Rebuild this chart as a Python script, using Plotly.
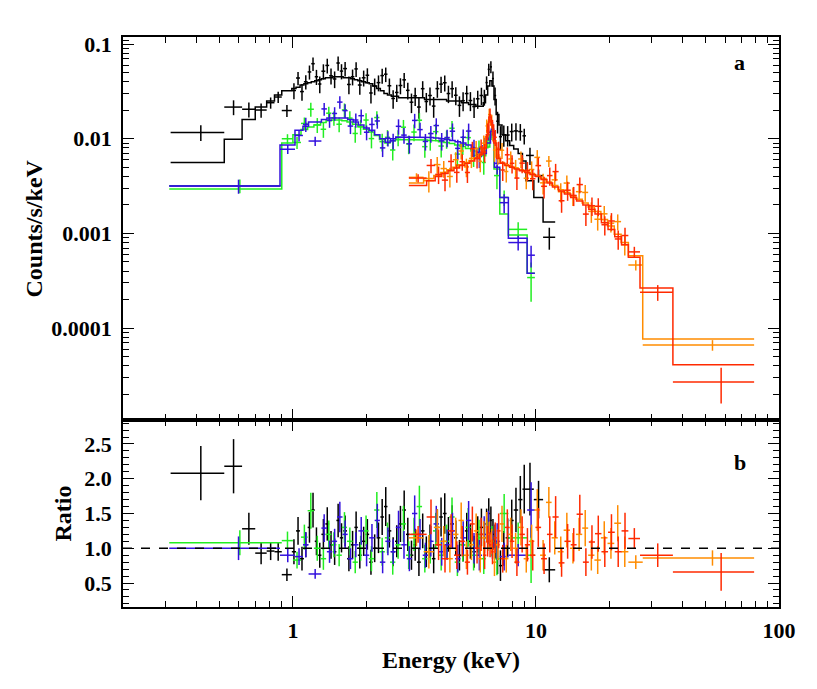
import plotly.graph_objects as go
from plotly.subplots import make_subplots

# ---------------- data (energy bin edges in keV, model in counts/s/keV, data/model ratio) -------------
black_edges = [0.314, 0.522, 0.618, 0.70, 0.78, 0.84, 0.90,
               0.99, 1.03, 1.07, 1.11, 1.15, 1.19, 1.23, 1.27, 1.31, 1.36,
               1.41, 1.46, 1.51, 1.56, 1.61, 1.67, 1.73, 1.79, 1.85, 1.92,
               1.99, 2.06, 2.13, 2.21, 2.29, 2.37, 2.45, 2.54, 2.63, 2.72,
               2.82, 2.92, 3.02, 3.13, 3.24, 3.36, 3.48, 3.60, 3.73, 3.86,
               4.00, 4.14, 4.29, 4.44, 4.60, 4.76, 4.93, 5.10, 5.28, 5.47,
               5.66, 5.86, 6.07, 6.20, 6.33, 6.46, 6.59, 6.72, 6.86, 7.04,
               7.25, 7.50, 7.80, 8.10, 8.45, 8.80, 9.10, 9.80, 10.7, 12.0]
black_model = [0.0056, 0.0099, 0.016, 0.0216, 0.025, 0.029, 0.032,
               0.034, 0.035, 0.037, 0.038, 0.039, 0.040, 0.041, 0.042,
               0.043, 0.044, 0.044, 0.045, 0.045, 0.045, 0.044, 0.044, 0.043, 0.042, 0.041, 0.040, 0.039,
               0.038, 0.036, 0.034, 0.032, 0.030, 0.029, 0.028, 0.028,
               0.027, 0.027, 0.027, 0.027, 0.027, 0.027, 0.027,
               0.026, 0.026, 0.026, 0.026, 0.026, 0.026,
               0.025, 0.025, 0.025, 0.025,
               0.024, 0.024, 0.023, 0.023, 0.022, 0.022,
               0.024, 0.029, 0.036, 0.041, 0.036, 0.026, 0.018, 0.014, 0.011, 0.0095, 0.0085, 0.0078, 0.0070, 0.0058,
               0.0036, 0.0024, 0.00132]
black_ratio = [2.08, 2.18, 1.28, 0.93, 0.96, 0.95, 0.62,
               0.95, 1.25, 0.85, 1.05, 1.30, 1.55, 1.10, 0.90, 1.20, 1.35,
               1.05, 0.95, 1.40, 1.15, 1.25, 0.85, 1.05, 1.30, 0.90, 1.10,
               1.20, 0.80, 1.00, 1.15, 1.45, 1.60, 1.25, 0.95, 1.10, 1.35,
               1.55, 1.20, 0.90, 1.05, 0.80, 1.25, 0.95, 1.10, 0.85, 1.30,
               1.45, 1.50, 1.20, 1.35, 1.15, 0.90, 1.05, 1.25, 1.10, 0.95,
               1.20, 1.30, 1.15, 1.35, 1.50, 1.40, 1.20, 1.10, 0.85, 0.75,
               1.00, 1.15, 1.40, 1.55, 1.70, 1.85, 1.85, 1.70, 0.69]
black_err = [0.39, 0.39, 0.23, 0.16, 0.13, 0.13, 0.09,
             0.18, 0.20, 0.17, 0.18, 0.22, 0.25, 0.20, 0.18, 0.22, 0.24,
             0.20, 0.19, 0.24, 0.21, 0.22, 0.18, 0.20, 0.23, 0.19, 0.21,
             0.22, 0.18, 0.20, 0.22, 0.26, 0.28, 0.24, 0.21, 0.23, 0.26,
             0.28, 0.24, 0.21, 0.23, 0.20, 0.25, 0.22, 0.24, 0.21, 0.26,
             0.28, 0.29, 0.25, 0.27, 0.25, 0.22, 0.24, 0.26, 0.25, 0.23,
             0.26, 0.27, 0.22, 0.22, 0.22, 0.20, 0.22, 0.24, 0.22, 0.22,
             0.25, 0.28, 0.30, 0.32, 0.34, 0.35, 0.38, 0.27, 0.18]

green_edges = [0.31, 0.90, 1.00, 1.08, 1.15, 1.22, 1.30, 1.37, 1.44, 1.51, 1.59,
               1.67, 1.76, 1.85, 1.95, 2.05, 2.16, 2.27, 2.39, 2.51, 2.64,
               2.78, 2.92, 3.07, 3.23, 3.40, 3.58, 3.77, 3.97, 4.18, 4.40,
               4.63, 4.87, 5.13, 5.40, 5.68, 5.98, 6.22, 6.46, 6.72, 7.10,
               7.70, 9.20, 9.90]
green_model = [0.00295, 0.0090, 0.0110, 0.0125, 0.0133, 0.0140, 0.0148, 0.0155, 0.0158, 0.0158,
               0.0155, 0.0150, 0.0142, 0.0134, 0.0126, 0.0118, 0.0108, 0.0098, 0.0090, 0.0095,
               0.0098, 0.0098, 0.0098, 0.0098, 0.0098, 0.0097, 0.0096, 0.0095, 0.0093, 0.0091,
               0.0089, 0.0086, 0.0083, 0.0079, 0.0074, 0.0068, 0.0066, 0.0082, 0.0110, 0.0048,
               0.0016, 0.00096, 0.00038]
green_ratio = [1.08, 1.11, 0.83, 1.16, 1.54, 1.00, 0.85, 1.20, 1.05, 0.90,
               1.30, 1.10, 0.80, 1.00, 1.25, 0.85, 1.55, 0.95, 1.15, 0.80,
               1.05, 1.35, 0.90, 1.20, 1.60, 0.85, 1.00, 1.25, 0.90, 1.10,
               1.45, 0.80, 1.05, 1.30, 0.90, 1.15, 0.85, 1.20, 1.10, 0.85,
               1.50, 1.15, 0.90]
green_err = [0.18, 0.13, 0.12, 0.18, 0.26, 0.18, 0.16, 0.20, 0.18, 0.16,
             0.22, 0.20, 0.16, 0.18, 0.22, 0.18, 0.26, 0.20, 0.22, 0.18,
             0.20, 0.26, 0.20, 0.24, 0.30, 0.20, 0.22, 0.26, 0.22, 0.24,
             0.28, 0.20, 0.24, 0.28, 0.22, 0.26, 0.22, 0.24, 0.22, 0.24,
             0.28, 0.22, 0.40]

blue_edges = [0.31, 0.885, 1.02, 1.10, 1.16, 1.31, 1.38, 1.45, 1.52, 1.60, 1.68,
              1.77, 1.86, 1.96, 2.06, 2.17, 2.28, 2.40, 2.52, 2.65, 2.79,
              2.94, 3.09, 3.25, 3.42, 3.60, 3.79, 3.99, 4.20, 4.42, 4.65,
              4.89, 5.15, 5.42, 5.70, 6.00, 6.25, 6.50, 6.75, 7.10, 7.70,
              9.20, 9.90]
blue_model = [0.00316, 0.0086, 0.0123, 0.0135, 0.0150, 0.0160, 0.0165, 0.0168, 0.0168, 0.0165,
              0.0160, 0.0150, 0.0140, 0.0130, 0.0123, 0.0110, 0.0100, 0.0092, 0.0100, 0.0104,
              0.0104, 0.0104, 0.0104, 0.0104, 0.0104, 0.0103, 0.0102, 0.0100, 0.0098, 0.0096,
              0.0093, 0.0090, 0.0086, 0.0080, 0.0072, 0.0070, 0.0090, 0.0120, 0.0050, 0.0024,
              0.00089, 0.00038]
blue_ratio = [1.00, 0.90, 0.88, 1.05, 0.63, 1.29, 0.95, 1.10, 1.45, 1.20,
              0.85, 1.05, 1.25, 0.90, 1.15, 1.40, 0.80, 1.10, 0.95, 1.30,
              1.05, 0.85, 1.50, 1.20, 0.90, 1.10, 1.35, 0.95, 1.05, 1.25,
              0.85, 1.15, 1.40, 1.00, 0.90, 1.20, 1.30, 1.05, 1.10, 0.88,
              0.90, 1.55]
blue_err = [0.17, 0.10, 0.12, 0.18, 0.07, 0.20, 0.16, 0.18, 0.22, 0.20,
            0.15, 0.18, 0.20, 0.16, 0.20, 0.24, 0.16, 0.20, 0.18, 0.24,
            0.20, 0.18, 0.26, 0.22, 0.18, 0.22, 0.26, 0.20, 0.22, 0.26,
            0.20, 0.24, 0.28, 0.22, 0.22, 0.26, 0.24, 0.20, 0.26, 0.20,
            0.16, 0.40]

orange_edges = [3.00, 3.45, 3.80, 4.05, 4.30, 4.55, 4.80, 5.05, 5.30, 5.55,
                5.80, 6.00, 6.20, 6.35, 6.50, 6.65, 6.85, 7.10, 7.40, 7.70,
                8.05, 8.45, 8.90, 9.35, 9.85, 10.4, 11.0, 11.6, 12.3, 13.0,
                13.8, 14.6, 15.5, 16.4, 17.4, 18.5, 19.7, 21.0, 22.4, 24.0,
                27.5, 79.0]
orange_model = [0.0034, 0.0038, 0.0041, 0.0044, 0.0047, 0.0050, 0.0053, 0.0056, 0.0059, 0.0063,
                0.0068, 0.0078, 0.0105, 0.0150, 0.0140, 0.0095, 0.0064, 0.0056, 0.0053, 0.0051,
                0.0049, 0.0047, 0.0045, 0.0043, 0.0041, 0.0038, 0.0035, 0.0032, 0.0029, 0.0027,
                0.0025, 0.0023, 0.0021, 0.0019, 0.0017, 0.0014, 0.0012, 0.00098, 0.00080, 0.00058,
                0.000077]
orange_ratio = [1.15, 0.95, 1.30, 1.10, 0.85, 1.20, 1.40, 0.90, 1.05, 1.25,
                0.85, 1.15, 1.30, 1.20, 1.10, 0.80, 1.05, 1.35, 0.85, 1.20,
                1.00, 1.30, 0.85, 1.10, 1.55, 0.90, 1.66, 1.15, 0.95, 1.26,
                1.00, 1.20, 1.29, 0.90, 0.83, 1.15, 1.07, 1.36, 0.95, 0.80,
                0.86]
orange_err = [0.12, 0.24, 0.26, 0.22, 0.20, 0.24, 0.26, 0.20, 0.22, 0.25,
              0.20, 0.24, 0.22, 0.18, 0.18, 0.20, 0.22, 0.26, 0.20, 0.24,
              0.22, 0.26, 0.20, 0.24, 0.30, 0.22, 0.22, 0.24, 0.22, 0.25,
              0.22, 0.24, 0.26, 0.22, 0.20, 0.24, 0.22, 0.26, 0.22, 0.10,
              0.11]

red_edges = [3.00, 3.55, 3.85, 4.10, 4.35, 4.60, 4.85, 5.10, 5.35, 5.60,
             5.85, 6.05, 6.25, 6.40, 6.55, 6.70, 6.90, 7.15, 7.45, 7.80,
             8.15, 8.55, 9.00, 9.45, 9.95, 10.5, 11.1, 11.7, 12.4, 13.1,
             13.9, 14.7, 15.6, 16.5, 17.5, 18.6, 19.8, 21.1, 22.5, 24.0,
             26.8, 36.6, 79.0]
red_model = [0.0032, 0.0036, 0.0040, 0.0043, 0.0046, 0.0049, 0.0052, 0.0055, 0.0058, 0.0062,
             0.0068, 0.0080, 0.0110, 0.0170, 0.0140, 0.0090, 0.0062, 0.0055, 0.0052, 0.0050,
             0.0048, 0.0046, 0.0044, 0.0042, 0.0040, 0.0037, 0.0034, 0.0031, 0.0028, 0.0026,
             0.0024, 0.0022, 0.0020, 0.0018, 0.0016, 0.0013, 0.0011, 0.00092, 0.00076, 0.00056,
             0.000266, 0.000041]
red_ratio = [1.20, 1.45, 1.05, 0.85, 1.25, 0.90, 1.10, 0.80, 1.35, 1.00,
             1.20, 0.90, 1.10, 1.05, 0.95, 1.15, 1.25, 0.85, 1.30, 1.10,
             0.80, 1.20, 1.05, 0.90, 1.30, 0.85, 1.20, 1.45, 0.79, 1.10,
             1.05, 1.49, 0.80, 1.09, 1.21, 0.95, 1.23, 0.95, 1.25, 1.14,
             0.90, 0.66]
red_err = [0.12, 0.25, 0.22, 0.20, 0.24, 0.20, 0.22, 0.18, 0.25, 0.22,
           0.24, 0.20, 0.22, 0.18, 0.18, 0.22, 0.25, 0.20, 0.26, 0.24,
           0.20, 0.26, 0.24, 0.22, 0.28, 0.22, 0.26, 0.30, 0.20, 0.25,
           0.24, 0.28, 0.20, 0.24, 0.26, 0.22, 0.26, 0.22, 0.26, 0.15,
           0.17, 0.27]

series = [
    ("black", "#000000", black_edges, black_model, black_ratio, black_err),
    ("green", "#22ee22", green_edges, green_model, green_ratio, green_err),
    ("blue", "#3311dd", blue_edges, blue_model, blue_ratio, blue_err),
    ("orange", "#ff8c00", orange_edges, orange_model, orange_ratio, orange_err),
    ("red", "#ff2a00", red_edges, red_model, red_ratio, red_err),
]

y_tickvals = [0.1, 0.01, 0.001, 0.0001]
y_ticktext = ["0.1", "0.01", "0.001", "0.0001"]
r_tickvals = [0.5, 1.0, 1.5, 2.0, 2.5]
r_ticktext = ["0.5", "1.0", "1.5", "2.0", "2.5"]
x_tickvals = [1, 10, 100]
x_ticktext = ["1", "10", "100"]

# ---------------- figure -------------
# page has an 8px body margin, so the figure is sized / offset to compensate
W, H = 809, 681
L, R, T, B = 115, 38, 29, 82
top_h, bot_h = 383, 187

fig = make_subplots(rows=2, cols=1, shared_xaxes=True, vertical_spacing=0,
                    row_heights=[top_h / (top_h + bot_h), bot_h / (top_h + bot_h)])

for name, col, edges, model, ratio, err in series:
    assert len(edges) == len(model) + 1 == len(ratio) + 1 == len(err) + 1, name
    lo = edges[:-1]
    hi = edges[1:]
    cen = [(a + b) / 2 for a, b in zip(lo, hi)]
    xp = [b - c for b, c in zip(hi, cen)]
    xm = [c - a for a, c in zip(lo, cen)]
    data = [m * r for m, r in zip(model, ratio)]
    derr = [m * e for m, e in zip(model, err)]
    sx, sy = [], []
    for a, b, m in zip(lo, hi, model):
        sx += [a, b]
        sy += [m, m]
    fig.add_trace(go.Scatter(x=sx, y=sy, mode="lines", line=dict(color=col, width=1.5),
                             showlegend=False, hoverinfo="skip"), row=1, col=1)
    fig.add_trace(go.Scatter(x=cen, y=data, mode="markers", marker=dict(size=1, color=col),
                             error_x=dict(type="data", array=xp, arrayminus=xm, width=0, thickness=1.5, color=col),
                             error_y=dict(type="data", array=derr, width=0, thickness=1.5, color=col),
                             showlegend=False), row=1, col=1)
    fig.add_trace(go.Scatter(x=cen, y=ratio, mode="markers", marker=dict(size=1, color=col),
                             error_x=dict(type="data", array=xp, arrayminus=xm, width=0, thickness=1.5, color=col),
                             error_y=dict(type="data", array=err, width=0, thickness=1.5, color=col),
                             showlegend=False), row=2, col=1)

fig.add_hline(y=1.0, line=dict(color="black", width=1.5, dash="dash"), row=2, col=1)

font_family = "Liberation Serif"
tick_font = dict(family=font_family, size=22, color="black", weight="bold")

x_minor = [0.2, 0.3, 0.4, 0.5, 0.6, 0.7, 0.8, 0.9, 2, 3, 4, 5, 6, 7, 8, 9,
           20, 30, 40, 50, 60, 70, 80, 90]
y_minor = []
for d in [1e-5, 1e-4, 1e-3, 1e-2]:
    for k in range(2, 10):
        y_minor.append(k * d)
y_minor.append(0.11)
r_minor = [round(0.2 + 0.1 * i, 2) for i in range(27)]

common_axis = dict(showline=True, linecolor="black", linewidth=1.5, mirror="allticks",
                   ticks="inside", ticklen=11, tickwidth=1.2, tickcolor="black",
                   showgrid=False, zeroline=False, tickfont=tick_font)

fig.update_xaxes(type="log", range=[-0.699, 2.0], tickvals=x_tickvals, ticktext=x_ticktext,
                 minor=dict(tickvals=x_minor, ticks="inside", ticklen=6, tickwidth=1.2, tickcolor="black", showgrid=False),
                 **common_axis)
fig.update_xaxes(showticklabels=False, row=1, col=1)
fig.update_xaxes(ticklabelstandoff=3, row=2, col=1)
fig.update_yaxes(type="log", range=[-4.97, -0.926], tickvals=y_tickvals, ticktext=y_ticktext,
                 minor=dict(tickvals=y_minor, ticks="inside", ticklen=6, tickwidth=1.2, tickcolor="black", showgrid=False),
                 ticklabelstandoff=5, row=1, col=1, **common_axis)
fig.update_yaxes(range=[0.155, 2.845], tickvals=r_tickvals, ticktext=r_ticktext,
                 minor=dict(tickvals=r_minor, ticks="inside", ticklen=6, tickwidth=1.2, tickcolor="black", showgrid=False),
                 ticklabelstandoff=5, row=2, col=1, **common_axis)

title_font = dict(family=font_family, size=24, color="black", weight="bold")
fig.add_annotation(text="Counts/s/keV", xref="paper", yref="paper", x=0, y=(bot_h + top_h / 2) / (top_h + bot_h),
                   xanchor="center", yanchor="middle", xshift=-90, textangle=-90, showarrow=False, font=title_font)
fig.add_annotation(text="Ratio", xref="paper", yref="paper", x=0, y=(bot_h / 2) / (top_h + bot_h),
                   xanchor="center", yanchor="middle", xshift=-61, textangle=-90, showarrow=False, font=title_font)
fig.add_annotation(text="Energy (keV)", xref="paper", yref="paper", x=0.5, y=0,
                   xanchor="center", yanchor="middle", yshift=-53, showarrow=False, font=title_font)
fig.add_annotation(text="a", xref="paper", yref="paper", x=0.94, y=1, xanchor="center", yanchor="middle",
                   yshift=-25, showarrow=False, font=dict(family=font_family, size=22, color="black", weight="bold"))
fig.add_annotation(text="b", xref="paper", yref="paper", x=0.94, y=bot_h / (top_h + bot_h),
                   xanchor="center", yanchor="middle", yshift=-42,
                   showarrow=False, font=dict(family=font_family, size=22, color="black", weight="bold"))

fig.update_layout(width=W, height=H, margin=dict(l=L, r=R, t=T, b=B),
                  paper_bgcolor="white", plot_bgcolor="white", showlegend=False)

fig.write_html("out.html")
